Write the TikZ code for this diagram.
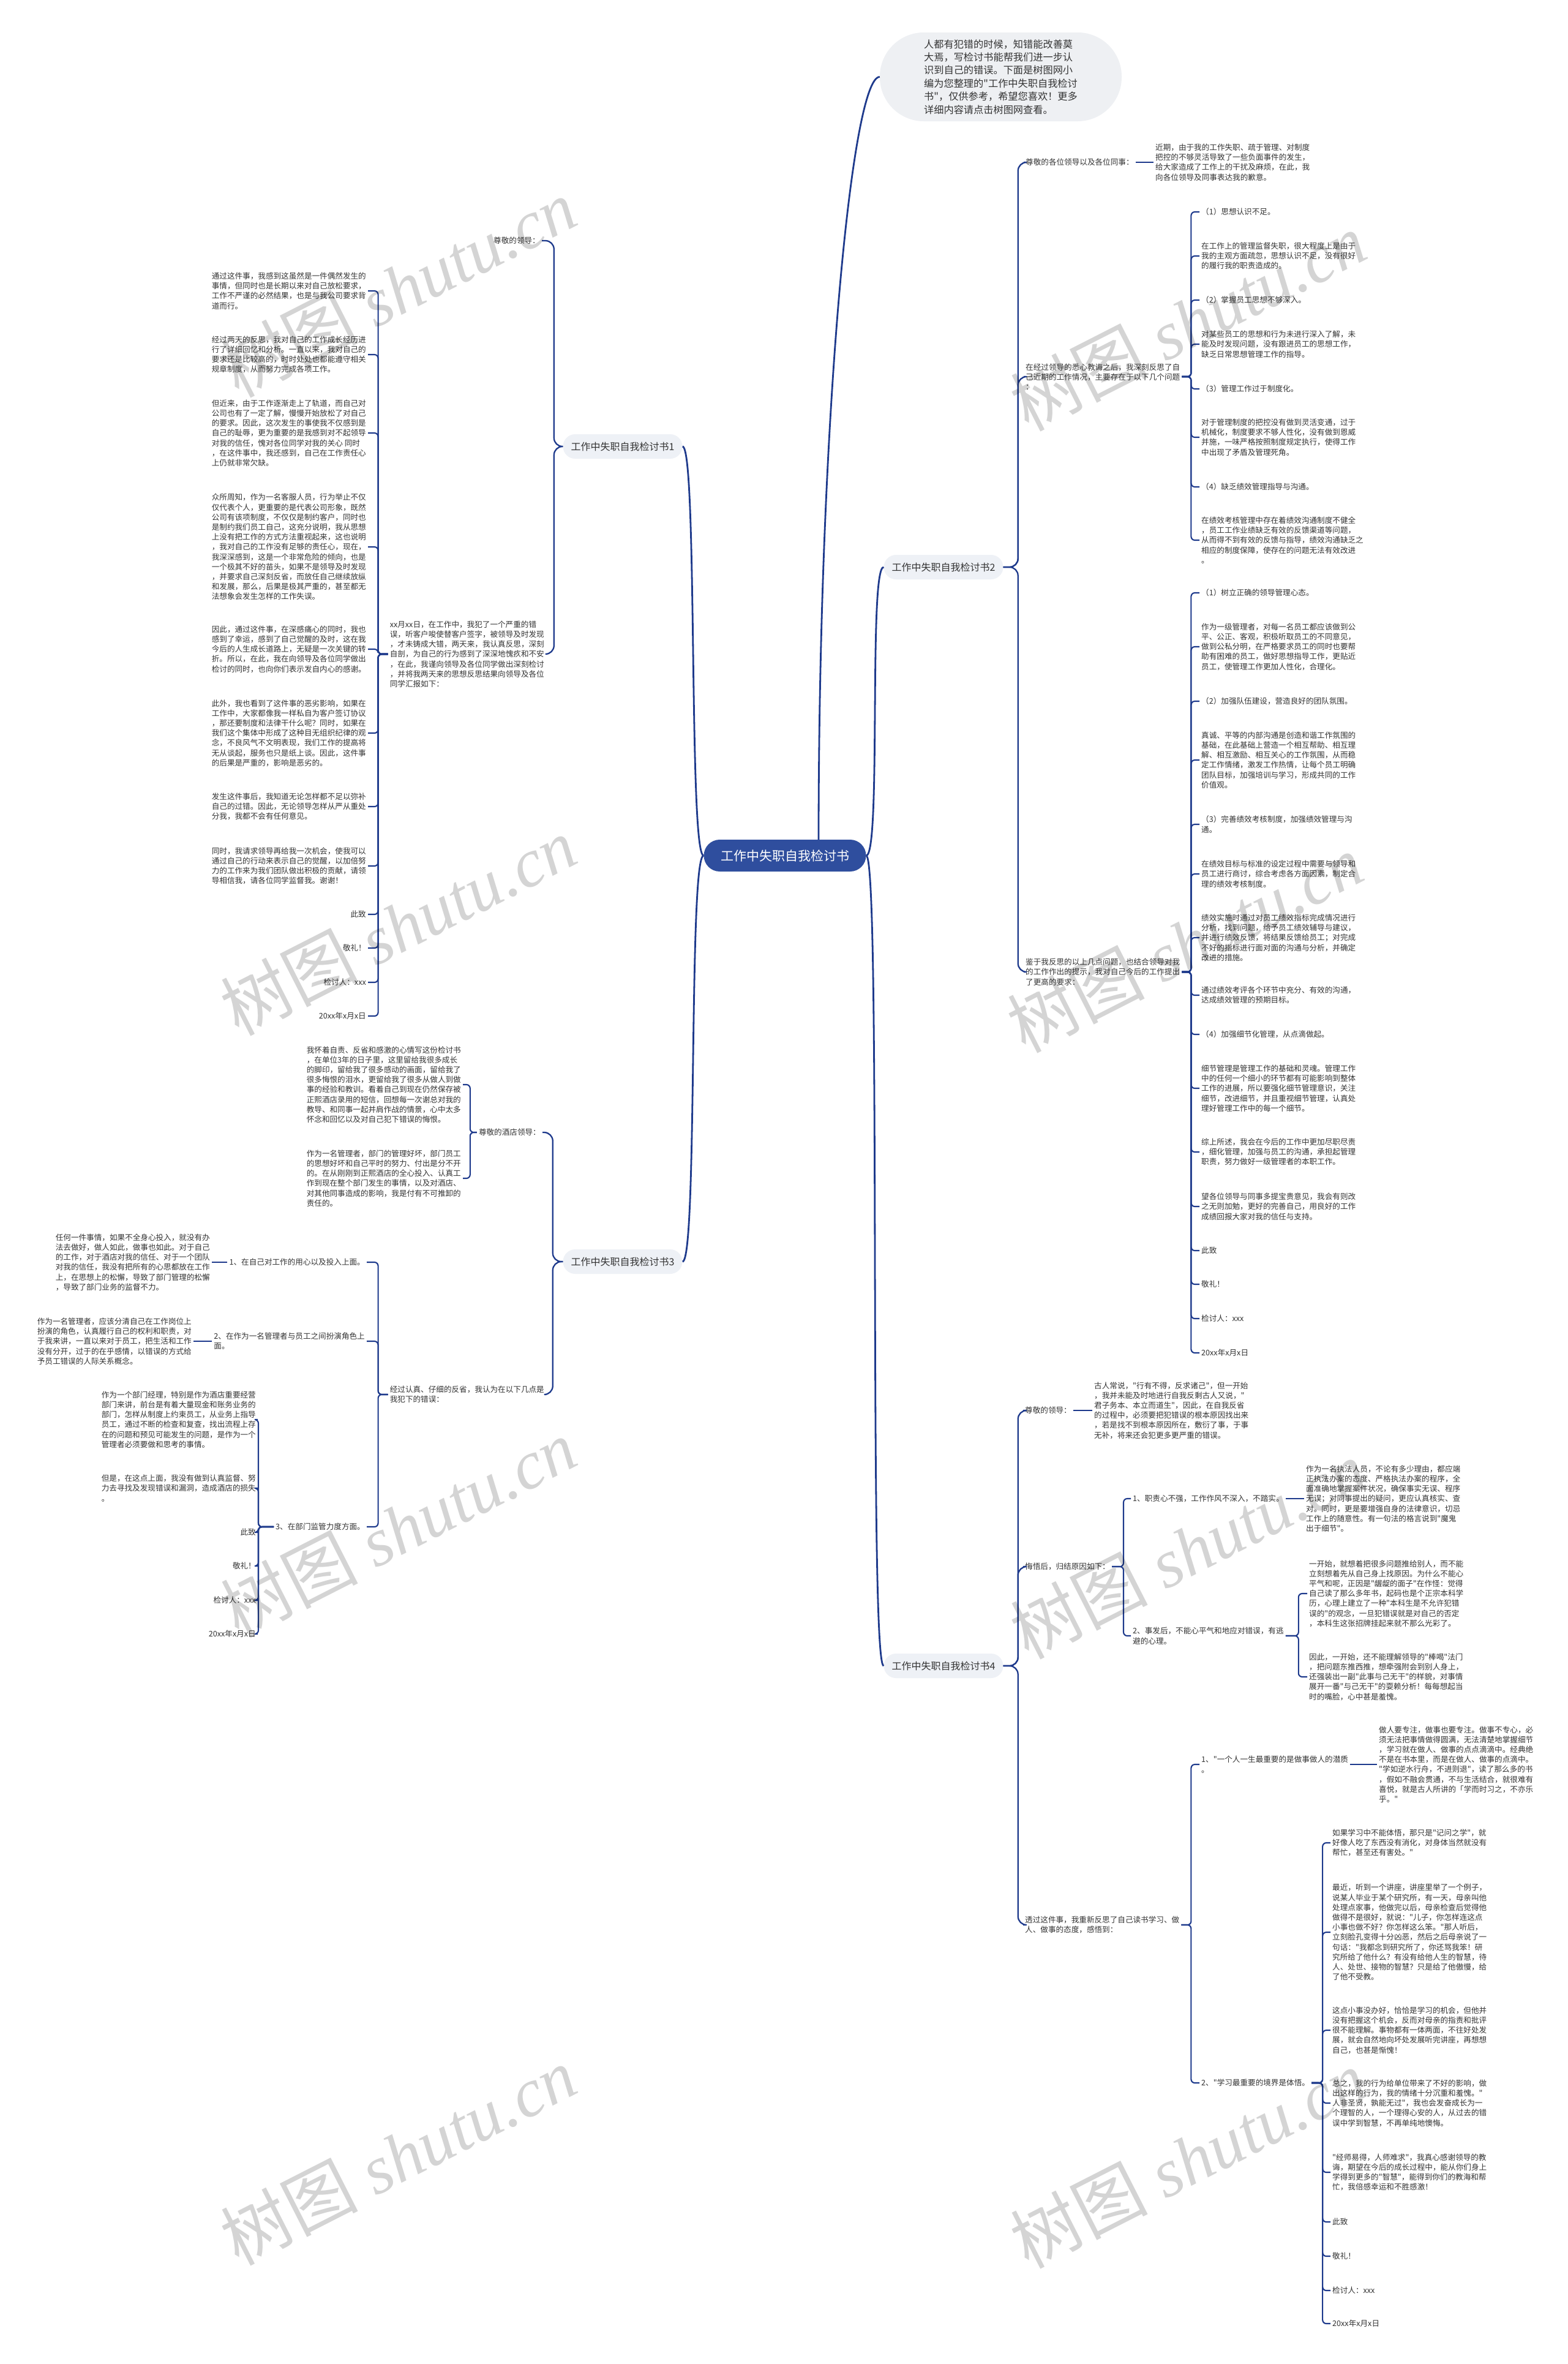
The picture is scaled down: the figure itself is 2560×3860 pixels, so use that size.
\documentclass[tikz,border=0pt]{standalone}
\usepackage{fontspec}
\setmainfont{Noto Sans CJK SC}[Ligatures=TeXOff]
\newfontfamily\wmserif{Liberation Serif}
\usetikzlibrary{calc}
\definecolor{txtc}{HTML}{333333}
\definecolor{linec}{HTML}{1E3A8C}
\definecolor{rootc}{HTML}{2F4E9E}
\definecolor{pillc}{HTML}{EEF1F6}
\definecolor{introc}{HTML}{EEF0F3}
\tikzset{
  txt/.style={font=\fontsize{12.6}{16.2}\selectfont, text=txtc, align=left, inner xsep=3pt, inner ysep=1pt},
  rt/.style={txt, anchor=west},
  lt/.style={txt, anchor=east},
  link/.style={draw=linec, line width=2.1pt, rounded corners=6pt},
  blink/.style={draw=linec, line width=2.3pt, rounded corners=14pt},
  rlink/.style={draw=linec, line width=2.8pt},
  pill/.style={fill=pillc, text=txtc, font=\fontsize{16}{19}\selectfont, rounded corners=20pt, minimum width=195pt, minimum height=40pt, inner xsep=10pt},
  rootbox/.style={fill=rootc, text=white, font=\fontsize{21}{25}\selectfont, rounded corners=26pt, minimum width=265pt, minimum height=52pt},
  introbox/.style={fill=introc, text=txtc, font=\fontsize{16.2}{21.4}\selectfont, align=left, rounded corners=72pt, minimum width=395pt, minimum height=145pt},
  wm/.style={text=black, opacity=0.17, font=\fontsize{112}{112}\selectfont, rotate=27}
}
\begin{document}
\begin{tikzpicture}[x=1pt,y=-1pt]
\useasboundingbox (0,0) rectangle (2560,3860);
\fill[white] (0,0) rectangle (2560,3860);

% root, intro, level 1
\node[rootbox] (root) at (1282,1397) {工作中失职自我检讨书};
\node[introbox] (intro) at (1634.5,125.5) {人都有犯错的时候，知错能改善莫\\大焉，写检讨书能帮我们进一步认\\识到自己的错误。下面是树图网小\\编为您整理的"工作中失职自我检讨\\书"，仅供参考，希望您喜欢！更多\\详细内容请点击树图网查看。};
\node[pill] (b1) at (1017,729) {工作中失职自我检讨书1};
\node[pill] (b2) at (1541,926) {工作中失职自我检讨书2};
\node[pill] (b3) at (1017,2060) {工作中失职自我检讨书3};
\node[pill] (b4) at (1541,2720) {工作中失职自我检讨书4};

% ---------- branch 2 ----------
\node[rt] (c2a) at (1672,265) {尊敬的各位领导以及各位同事：};
\node[rt] (c2a1) at (1884,265) {近期，由于我的工作失职、疏于管理、对制度\\把控的不够灵活导致了一些负面事件的发生，\\给大家造成了工作上的干扰及麻烦，在此，我\\向各位领导及同事表达我的歉意。};
\node[rt] (c2b) at (1672,615) {在经过领导的悉心教诲之后，我深刻反思了自\\己近期的工作情况，主要存在于以下几个问题\\：};
\node[rt] (k1) at (1959,346) {（1）思想认识不足。};
\node[rt] (k2) at (1959,418) {在工作上的管理监督失职，很大程度上是由于\\我的主观方面疏忽，思想认识不足，没有很好\\的履行我的职责造成的。};
\node[rt] (k3) at (1959,490) {（2）掌握员工思想不够深入。};
\node[rt] (k4) at (1959,562) {对某些员工的思想和行为未进行深入了解，未\\能及时发现问题，没有跟进员工的思想工作，\\缺乏日常思想管理工作的指导。};
\node[rt] (k5) at (1959,635) {（3）管理工作过于制度化。};
\node[rt] (k6) at (1959,714) {对于管理制度的把控没有做到灵活变通，过于\\机械化，制度要求不够人性化，没有做到恩威\\并施，一味严格按照制度规定执行，使得工作\\中出现了矛盾及管理死角。};
\node[rt] (k7) at (1959,795) {（4）缺乏绩效管理指导与沟通。};
\node[rt] (k8) at (1959,882) {在绩效考核管理中存在着绩效沟通制度不健全\\，员工工作业绩缺乏有效的反馈渠道等问题，\\从而得不到有效的反馈与指导，绩效沟通缺乏之\\相应的制度保障，使存在的问题无法有效改进\\。};
\node[rt] (c2c) at (1672,1587) {鉴于我反思的以上几点问题，也结合领导对我\\的工作作出的提示，我对自己今后的工作提出\\了更高的要求：};
\node[rt] (m1) at (1959,968) {（1）树立正确的领导管理心态。};
\node[rt] (m2) at (1959,1056) {作为一级管理者，对每一名员工都应该做到公\\平、公正、客观，积极听取员工的不同意见，\\做到公私分明，在严格要求员工的同时也要帮\\助有困难的员工，做好思想指导工作，更贴近\\员工，使管理工作更加人性化，合理化。};
\node[rt] (m3) at (1959,1145) {（2）加强队伍建设，营造良好的团队氛围。};
\node[rt] (m4) at (1959,1241) {真诚、平等的内部沟通是创造和谐工作氛围的\\基础，在此基础上营造一个相互帮助、相互理\\解、相互激励、相互关心的工作氛围，从而稳\\定工作情绪，激发工作热情，让每个员工明确\\团队目标，加强培训与学习，形成共同的工作\\价值观。};
\node[rt] (m5) at (1959,1346) {（3）完善绩效考核制度，加强绩效管理与沟\\通。};
\node[rt] (m6) at (1959,1427) {在绩效目标与标准的设定过程中需要与领导和\\员工进行商讨，综合考虑各方面因素，制定合\\理的绩效考核制度。};
\node[rt] (m7) at (1959,1531) {绩效实施时通过对员工绩效指标完成情况进行\\分析，找到问题，给予员工绩效辅导与建议，\\并进行绩效反馈，将结果反馈给员工；对完成\\不好的指标进行面对面的沟通与分析，并确定\\改进的措施。};
\node[rt] (m8) at (1959,1625) {通过绩效考评各个环节中充分、有效的沟通，\\达成绩效管理的预期目标。};
\node[rt] (m9) at (1959,1689) {（4）加强细节化管理，从点滴做起。};
\node[rt] (m10) at (1959,1777) {细节管理是管理工作的基础和灵魂。管理工作\\中的任何一个细小的环节都有可能影响到整体\\工作的进展，所以要强化细节管理意识，关注\\细节，改进细节，并且重视细节管理，认真处\\理好管理工作中的每一个细节。};
\node[rt] (m11) at (1959,1881) {综上所述，我会在今后的工作中更加尽职尽责\\，细化管理，加强与员工的沟通，承担起管理\\职责，努力做好一级管理者的本职工作。};
\node[rt] (m12) at (1959,1970) {望各位领导与同事多提宝贵意见，我会有则改\\之无则加勉，更好的完善自己，用良好的工作\\成绩回报大家对我的信任与支持。};
\node[rt] (m13) at (1959,2042) {此致};
\node[rt] (m14) at (1959,2097) {敬礼！};
\node[rt] (m15) at (1959,2153) {检讨人：xxx};
\node[rt] (m16) at (1959,2209) {20xx年x月x日};

% ---------- branch 4 ----------
\node[rt] (c4a) at (1671,2303) {尊敬的领导：};
\node[rt] (c4a1) at (1784,2303) {古人常说，"行有不得，反求诸己"，但一开始\\，我并未能及时地进行自我反剩古人又说，"\\君子务本、本立而道生"，因此，在自我反省\\的过程中，必须要把犯错误的根本原因找出来\\，若是找不到根本原因所在，敷衍了事，于事\\无补，将来还会犯更多更严重的错误。};
\node[rt] (c4b) at (1671,2558) {悔悟后，归结原因如下：};
\node[rt] (t1) at (1847,2447) {1、职责心不强，工作作风不深入，不踏实。};
\node[rt] (t1a) at (2130,2447) {作为一名执法人员，不论有多少理由，都应端\\正执法办案的态度、严格执法办案的程序，全\\面准确地掌握案件状况，确保事实无误、程序\\无误；对同事提出的疑问，更应认真核实、查\\对。同时，更是要增强自身的法律意识，切忌\\工作上的随意性。有一句法的格言说到"魔鬼\\出于细节"。};
\node[rt] (t2) at (1847,2671) {2、事发后，不能心平气和地应对错误，有逃\\避的心理。};
\node[rt] (t2a) at (2135,2602) {一开始，就想着把很多问题推给别人，而不能\\立刻想着先从自己身上找原因。为什么不能心\\平气和呢，正因是"龌龊的面子"在作怪：觉得\\自己读了那么多年书，起码也是个正宗本科学\\历，心理上建立了一种"本科生是不允许犯错\\误的"的观念，一旦犯错误就是对自己的否定\\，本科生这张招牌挂起来就不那么光彩了。};
\node[rt] (t2b) at (2135,2738) {因此，一开始，还不能理解领导的"棒喝"法门\\，把问题东推西推，想牵强附会到别人身上，\\还强装出一副"此事与己无干"的样貌，对事情\\展开一番"与己无干"的耍赖分析！每每想起当\\时的嘴脸，心中甚是羞愧。};
\node[rt] (c4c) at (1671,3143) {透过这件事，我重新反思了自己读书学习、做\\人、做事的态度，感悟到：};
\node[rt] (s1) at (1959,2881) {1、"一个人一生最重要的是做事做人的潜质\\。};
\node[rt] (s1a) at (2249,2881) {做人要专注，做事也要专注。做事不专心，必\\须无法把事情做得圆满，无法清楚地掌握细节\\，学习就在做人、做事的点点滴滴中。经典绝\\不是在书本里，而是在做人、做事的点滴中。\\"学如逆水行舟，不进则退"，读了那么多的书\\，假如不融会贯通，不与生活结合，就很难有\\喜悦，就是古人所讲的「学而时习之，不亦乐\\乎。"};
\node[rt] (s2) at (1959,3401) {2、"学习最重要的境界是体悟。};
\node[rt] (u1) at (2173,3009) {如果学习中不能体悟，那只是"记问之学"，就\\好像人吃了东西没有消化，对身体当然就没有\\帮忙，甚至还有害处。"};
\node[rt] (u2) at (2173,3155) {最近，听到一个讲座，讲座里举了一个例子，\\说某人毕业于某个研究所，有一天，母亲叫他\\处理点家事，他做完以后，母亲检查后觉得他\\做得不是很好，就说："儿子，你怎样连这点\\小事也做不好？你怎样这么笨。"那人听后，\\立刻脸孔变得十分凶恶，然后之后母亲说了一\\句话："我都念到研究所了，你还骂我笨！研\\究所给了他什么？有没有给他人生的智慧，待\\人、处世、接物的智慧？只是给了他傲慢，给\\了他不受教。};
\node[rt] (u3) at (2173,3315) {这点小事没办好，恰恰是学习的机会，但他并\\没有把握这个机会，反而对母亲的指责和批评\\很不能理解。事物都有一体两面，不往好处发\\展，就会自然地向坏处发展听完讲座，再想想\\自己，也甚是惭愧！};
\node[rt] (u4) at (2173,3434) {总之，我的行为给单位带来了不好的影响，做\\出这样的行为，我的情绪十分沉重和羞愧。"\\人非圣贤，孰能无过"，我也会发奋成长为一\\个理智的人，一个理得心安的人，从过去的错\\误中学到智慧，不再单纯地懊悔。};
\node[rt] (u5) at (2173,3547) {"经师易得，人师难求"，我真心感谢领导的教\\诲，期望在今后的成长过程中，能从你们身上\\学得到更多的"智慧"，能得到你们的教海和帮\\忙，我倍感幸运和不胜感激！};
\node[rt] (u6) at (2173,3628) {此致};
\node[rt] (u7) at (2173,3684) {敬礼！};
\node[rt] (u8) at (2173,3740) {检讨人：xxx};
\node[rt] (u9) at (2173,3794) {20xx年x月x日};

% ---------- branch 1 ----------
\node[lt] (c1a) at (885,393) {尊敬的领导：};
\node[lt] (c1b) at (892,1068) {xx月xx日，在工作中，我犯了一个严重的错\\误，听客户唆使替客户签字，被领导及时发现\\，才未铸成大错，两天来，我认真反思，深刻\\自剖，为自己的行为感到了深深地愧疚和不安\\，在此，我谨向领导及各位同学做出深刻检讨\\，并将我两天来的思想反思结果向领导及各位\\同学汇报如下：};
\node[lt] (n1) at (601,475) {通过这件事，我感到这虽然是一件偶然发生的\\事情，但同时也是长期以来对自己放松要求，\\工作不严谨的必然结果，也是与我公司要求背\\道而行。};
\node[lt] (n2) at (601,579) {经过两天的反思，我对自己的工作成长经历进\\行了详细回忆和分析。一直以来，我对自己的\\要求还是比较高的，时时处处也都能遵守相关\\规章制度，从而努力完成各项工作。};
\node[lt] (n3) at (601,707) {但近来，由于工作逐渐走上了轨道，而自己对\\公司也有了一定了解，慢慢开始放松了对自己\\的要求。因此，这次发生的事使我不仅感到是\\自己的耻辱，更为重要的是我感到对不起领导\\对我的信任，愧对各位同学对我的关心 同时\\，在这件事中，我还感到，自己在工作责任心\\上仍就非常欠缺。};
\node[lt] (n4) at (601,893) {众所周知，作为一名客服人员，行为举止不仅\\仅代表个人，更重要的是代表公司形象，既然\\公司有该项制度，不仅仅是制约客户，同时也\\是制约我们员工自己，这充分说明，我从思想\\上没有把工作的方式方法重视起来，这也说明\\，我对自己的工作没有足够的责任心，现在，\\我深深感到，这是一个非常危险的倾向，也是\\一个极其不好的苗头，如果不是领导及时发现\\，并要求自己深刻反省，而放任自己继续放纵\\和发展，那么，后果是极其严重的，甚至都无\\法想象会发生怎样的工作失误。};
\node[lt] (n5) at (601,1060) {因此，通过这件事，在深感痛心的同时，我也\\感到了幸运，感到了自己觉醒的及时，这在我\\今后的人生成长道路上，无疑是一次关键的转\\折。所以，在此，我在向领导及各位同学做出\\检讨的同时，也向你们表示发自内心的感谢。};
\node[lt] (n6) at (601,1197) {此外，我也看到了这件事的恶劣影响，如果在\\工作中，大家都像我一样私自为客户签订协议\\，那还要制度和法律干什么呢？同时，如果在\\我们这个集体中形成了这种目无组织纪律的观\\念，不良风气不文明表现，我们工作的提高将\\无从谈起，服务也只是纸上谈。因此，这件事\\的后果是严重的，影响是恶劣的。};
\node[lt] (n7) at (601,1317) {发生这件事后，我知道无论怎样都不足以弥补\\自己的过错。因此，无论领导怎样从严从重处\\分我，我都不会有任何意见。};
\node[lt] (n8) at (601,1414) {同时，我请求领导再给我一次机会，使我可以\\通过自己的行动来表示自己的觉醒，以加倍努\\力的工作来为我们团队做出积极的贡献，请领\\导相信我，请各位同学监督我。谢谢！};
\node[lt] (n9) at (601,1493) {此致};
\node[lt] (n10) at (601,1548) {敬礼！};
\node[lt] (n11) at (601,1604) {检讨人：xxx};
\node[lt] (n12) at (601,1659) {20xx年x月x日};

% ---------- branch 3 ----------
\node[lt] (c3a) at (886,1849) {尊敬的酒店领导：};
\node[lt] (p1) at (756,1771) {我怀着自责、反省和感激的心情写这份检讨书\\，在单位3年的日子里，这里留给我很多成长\\的脚印，留给我了很多感动的画面，留给我了\\很多悔恨的泪水，更留给我了很多从做人到做\\事的经验和教训。看着自己到现在仍然保存被\\正熙酒店录用的短信，回想每一次谢总对我的\\教导、和同事一起并肩作战的情景，心中太多\\怀念和回忆以及对自己犯下错误的悔恨。};
\node[lt] (p2) at (756,1924) {作为一名管理者，部门的管理好坏，部门员工\\的思想好坏和自己平时的努力、付出是分不开\\的。在从刚刚到正熙酒店的全心投入、认真工\\作到现在整个部门发生的事情，以及对酒店、\\对其他同事造成的影响，我是付有不可推卸的\\责任的。};
\node[lt] (c3b) at (892,2277) {经过认真、仔细的反省，我认为在以下几点是\\我犯下的错误：};
\node[lt] (q1) at (599,2061) {1、在自己对工作的用心以及投入上面。};
\node[lt] (q1a) at (346,2061) {任何一件事情，如果不全身心投入，就没有办\\法去做好，做人如此，做事也如此。对于自己\\的工作，对于酒店对我的信任、对于一个团队\\对我的信任，我没有把所有的心思都放在工作\\上，在思想上的松懈，导致了部门管理的松懈\\，导致了部门业务的监督不力。};
\node[lt] (q2) at (599,2190) {2、在作为一名管理者与员工之间扮演角色上\\面。};
\node[lt] (q2a) at (316,2190) {作为一名管理者，应该分清自己在工作岗位上\\扮演的角色，认真履行自己的权利和职责，对\\于我来讲，一直以来对于员工，把生活和工作\\没有分开，过于的在乎感情，以错误的方式给\\予员工错误的人际关系概念。};
\node[lt] (q3) at (599,2493) {3、在部门监管力度方面。};
\node[lt] (r1) at (421,2318) {作为一个部门经理，特别是作为酒店重要经营\\部门来讲，前台是有着大量现金和账务业务的\\部门，怎样从制度上约束员工，从业务上指导\\员工，通过不断的检查和复查，找出流程上存\\在的问题和预见可能发生的问题，是作为一个\\管理者必须要做和思考的事情。};
\node[lt] (r2) at (421,2430) {但是，在这点上面，我没有做到认真监督、努\\力去寻找及发现错误和漏洞，造成酒店的损失\\。};
\node[lt] (r3) at (421,2502) {此致};
\node[lt] (r4) at (421,2557) {敬礼！};
\node[lt] (r5) at (421,2613) {检讨人：xxx};
\node[lt] (r6) at (421,2668) {20xx年x月x日};

% ---------- connectors ----------
\draw[rlink] (root.west) .. controls +(-25,0) and +(25,0) .. (b1.east);
\draw[rlink] (root.west) .. controls +(-25,0) and +(25,0) .. (b3.east);
\draw[rlink] (root.east) .. controls +(25,0) and +(-25,0) .. (b2.west);
\draw[rlink] (root.east) .. controls +(25,0) and +(-25,0) .. (b4.west);
\draw[rlink] ($(root.north)+(55,0)$) .. controls +(0,-670) and +(-47,0) .. (intro.west);

\foreach \nm in {c2a,c2b,c2c} \draw[blink] (b2.east) -- ++(24,0) |- (\nm.west);
\foreach \nm in {c4a,c4b,c4c} \draw[blink] (b4.east) -- ++(24,0) |- (\nm.west);
\foreach \nm in {c1a,c1b} \draw[blink] (b1.west) -- ++(-14.5,0) |- (\nm.east);
\foreach \nm in {c3a,c3b} \draw[blink] (b3.west) -- ++(-16.5,0) |- (\nm.east);

\draw[link] (c2a.east) -- (c2a1.west);
\foreach \nm in {k1,k2,k3,k4,k5,k6,k7,k8} \draw[link] (c2b.east) -- ++(15,0) |- (\nm.west);
\foreach \nm in {m1,m2,m3,m4,m5,m6,m7,m8,m9,m10,m11,m12,m13,m14,m15,m16} \draw[link] (c2c.east) -- ++(15,0) |- (\nm.west);

\draw[link] (c4a.east) -- (c4a1.west);
\foreach \nm in {t1,t2} \draw[link] (c4b.east) -- ++(19,0) |- (\nm.west);
\draw[link] (t1.east) -- (t1a.west);
\foreach \nm in {t2a,t2b} \draw[link] (t2.east) -- ++(21,0) |- (\nm.west);
\foreach \nm in {s1,s2} \draw[link] (c4c.east) -- ++(16,0) |- (\nm.west);
\draw[link] (s1.east) -- (s1a.west);
\foreach \nm in {u1,u2,u3,u4,u5,u6,u7,u8,u9} \draw[link] (s2.east) -- ++(18,0) |- (\nm.west);

\foreach \nm in {n1,n2,n3,n4,n5,n6,n7,n8,n9,n10,n11,n12} \draw[link] (c1b.west) -- ++(-16,0) |- (\nm.east);
\foreach \nm in {p1,p2} \draw[link] (c3a.west) -- ++(-11,0) |- (\nm.east);
\foreach \nm in {q1,q2,q3} \draw[link] (c3b.west) -- ++(-16,0) |- (\nm.east);
\draw[link] (q1.west) -- (q1a.east);
\draw[link] (q2.west) -- (q2a.east);
\foreach \nm in {r1,r2,r3,r4,r5,r6} \draw[link] (q3.west) -- ++(-25,0) |- (\nm.east);

% ---------- watermarks ----------
\node[wm] (wm1) at (650,470) {树图\hspace{0.25em}{\wmserif\itshape shutu.cn}};
\node[wm] (wm2) at (1940,525) {树图\hspace{0.25em}{\wmserif\itshape shutu.cn}};
\node[wm] (wm3) at (650,1512) {树图\hspace{0.25em}{\wmserif\itshape shutu.cn}};
\node[wm] (wm4) at (1935,1540) {树图\hspace{0.25em}{\wmserif\itshape shutu.cn}};
\node[wm] (wm5) at (650,2495) {树图\hspace{0.25em}{\wmserif\itshape shutu.cn}};
\node[wm] (wm6) at (1940,2530) {树图\hspace{0.25em}{\wmserif\itshape shutu.cn}};
\node[wm] (wm7) at (650,3520) {树图\hspace{0.25em}{\wmserif\itshape shutu.cn}};
\node[wm] (wm8) at (1940,3525) {树图\hspace{0.25em}{\wmserif\itshape shutu.cn}};
\end{tikzpicture}
\end{document}
